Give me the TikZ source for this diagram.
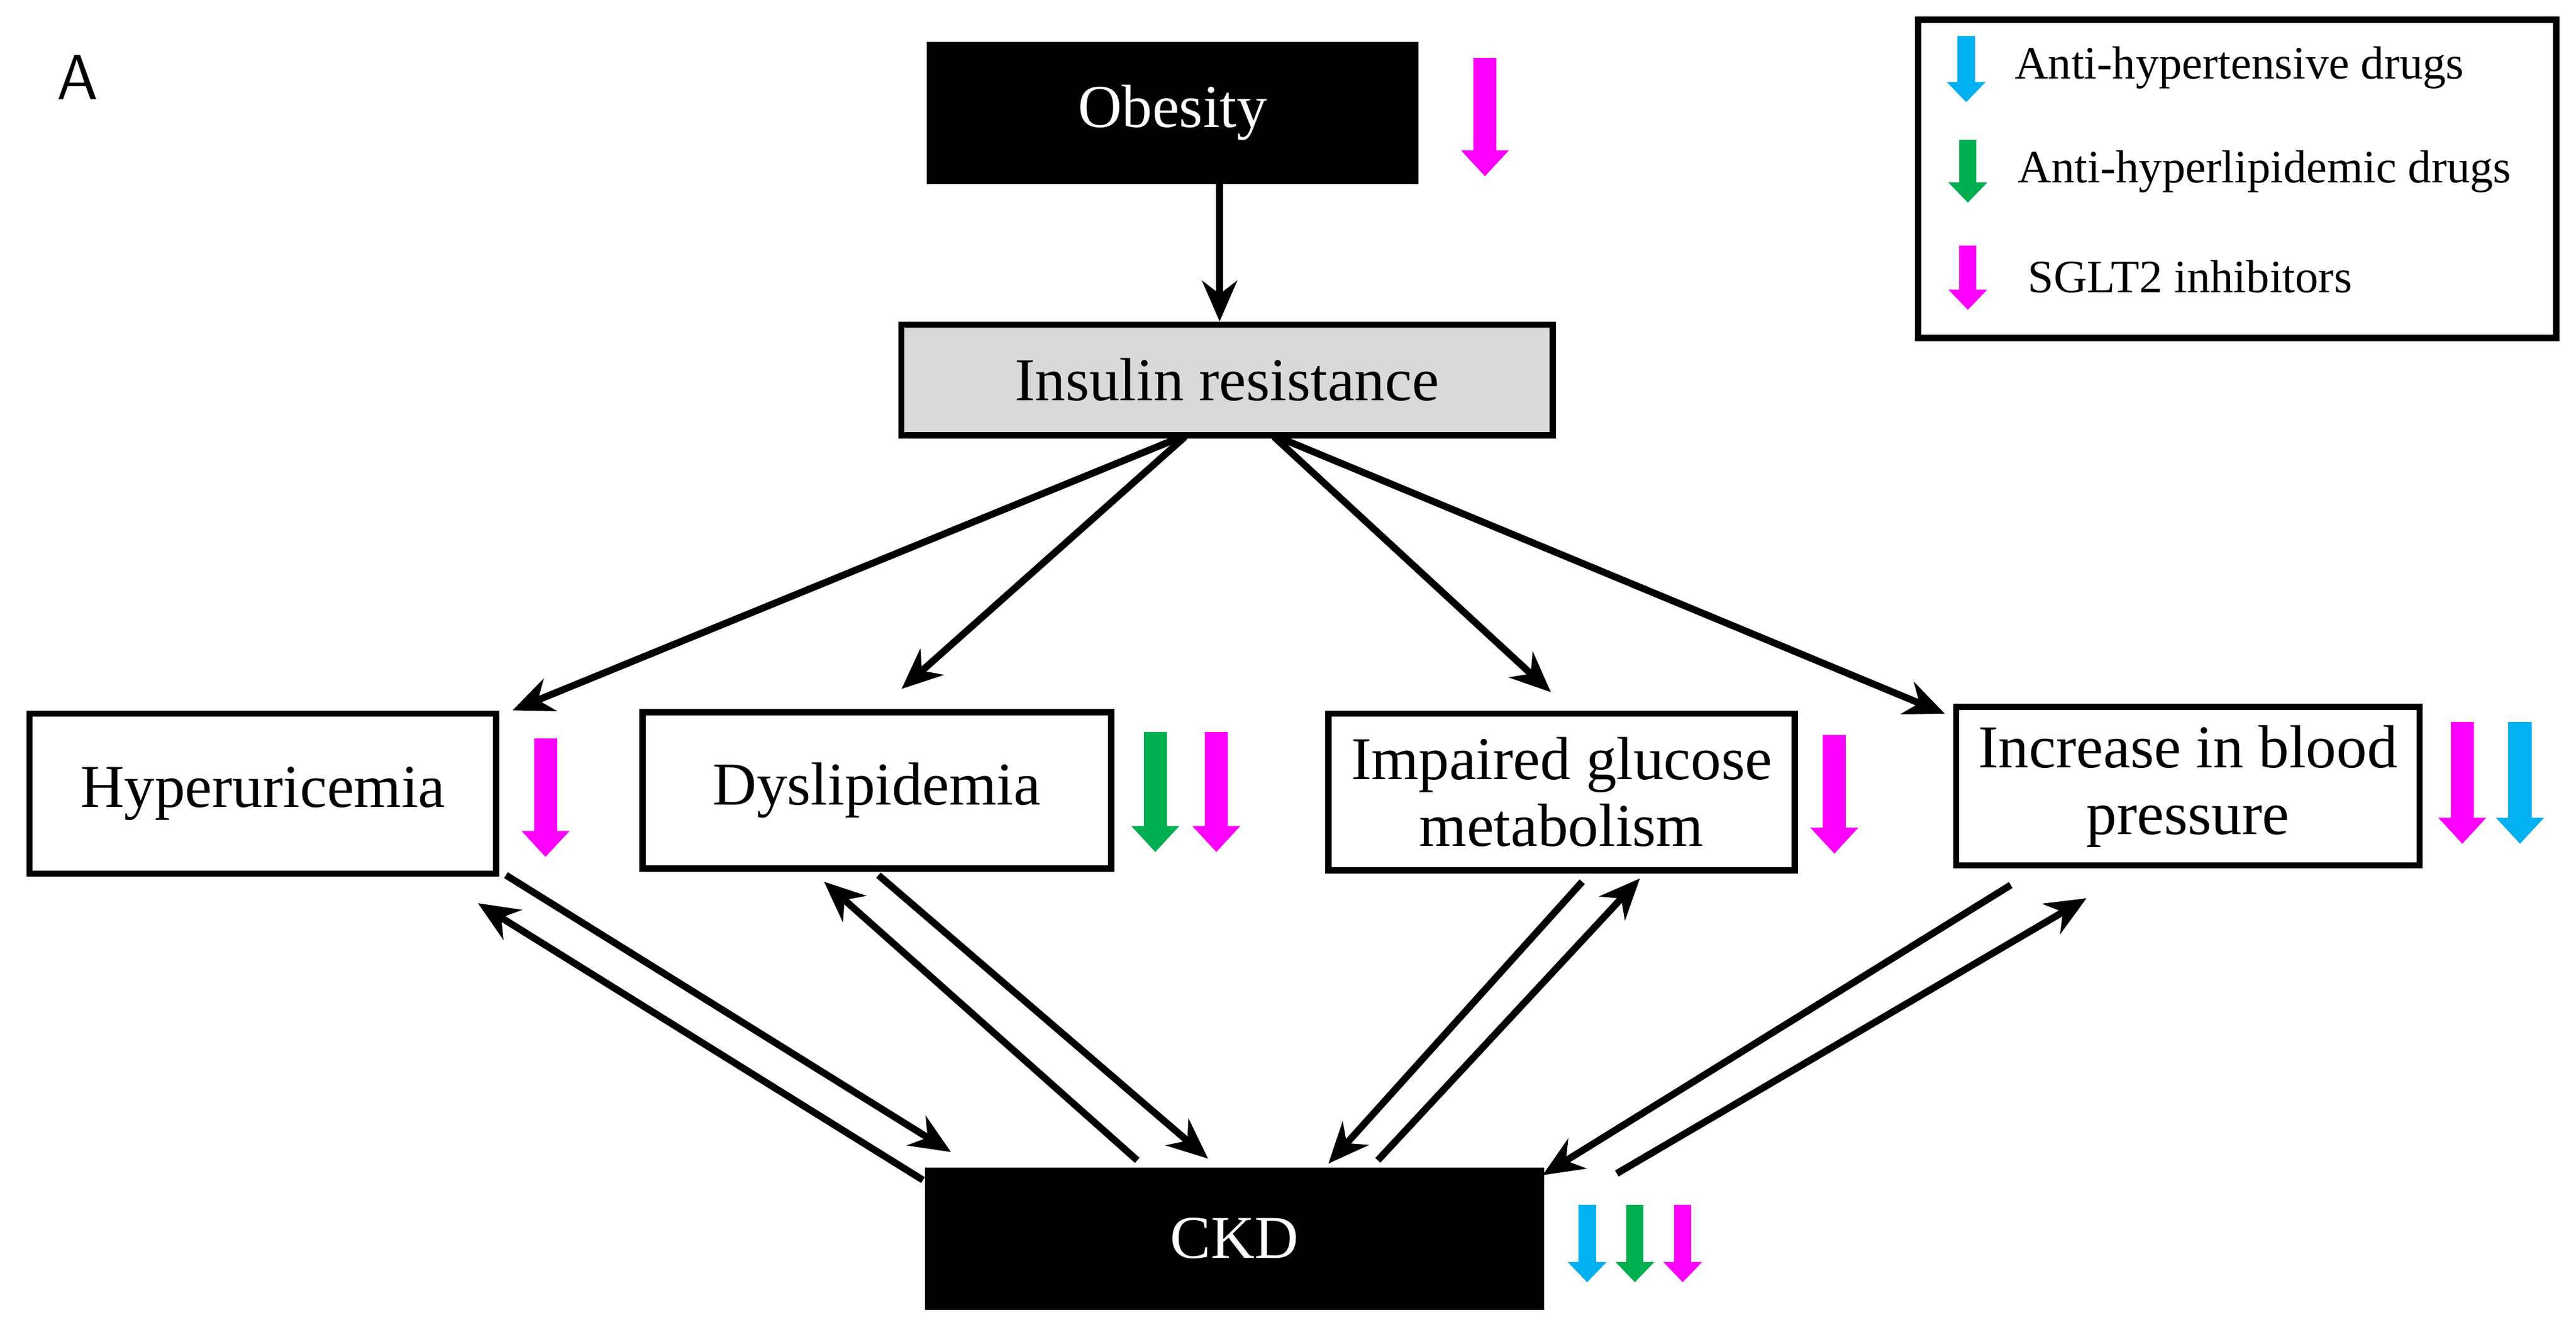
\documentclass[tikz,border=0pt]{standalone}
\usepackage{fontspec}
\setmainfont{Liberation Serif}
\usetikzlibrary{arrows.meta}
\definecolor{mag}{RGB}{255,0,255}
\definecolor{grn}{RGB}{0,176,80}
\definecolor{blu}{RGB}{0,176,240}
\begin{document}
\begin{tikzpicture}[x=0.01cm,y=-0.01cm,
 box/.style={draw,line width=1.1pt,minimum width=#1,inner sep=2pt,align=center,font=\fontsize{10.5}{11.5}\selectfont},
 blk/.style={fill=black,text=white,draw=black,font=\fontsize{10.5}{11.5}\selectfont},
 con/.style={line width=1.2pt,-{Stealth[length=7pt,width=6pt]}},
 ba/.style={line width=4pt,-{Triangle[length=4.5pt,width=8pt]}},
 sba/.style={line width=3pt,-{Triangle[length=3.5pt,width=6.5pt]}}]
\useasboundingbox (0,0) rectangle (1563,811);
\node[font=\sffamily\fontsize{11}{12}\selectfont] (A) at (47,47) {A};
\node[blk,minimum width=2.97cm,minimum height=0.85cm] (ob) at (711.5,68.5) {Obesity};
\node[box=3.95cm,minimum height=0.67cm,fill=black!15] (ir) at (744.5,230.5) {Insulin resistance};
\node[box=2.83cm,minimum height=0.97cm] (hu) at (159.5,481.5) {Hyperuricemia};
\node[box=2.84cm,minimum height=0.95cm] (dl) at (532,479.5) {Dyslipidemia};
\node[box=2.83cm,minimum height=0.95cm] (ig) at (947.5,480.5) {Impaired glucose\\metabolism};
\node[box=2.81cm,minimum height=0.96cm] (bp) at (1327.5,477) {Increase in blood\\pressure};
\node[blk,minimum width=3.74cm,minimum height=0.85cm] (ckd) at (749,751.5) {CKD};
\node[draw,line width=1.1pt,minimum width=3.87cm,minimum height=1.93cm] (leg) at (1357.5,108.5) {};
\node[anchor=west,font=\fontsize{8}{9}\selectfont] (l1) at (1210,41) {Anti-hypertensive drugs};
\node[anchor=west,font=\fontsize{8}{9}\selectfont] (l2) at (1212,104) {Anti-hyperlipidemic drugs};
\node[anchor=west,font=\fontsize{8}{9}\selectfont] (l3) at (1218,168) {SGLT2 inhibitors};
% connectors
\draw[con] (ob.south -| 740,0) -- (ir.north -| 740,0);
\coordinate (i1) at (717,265); \coordinate (i2) at (719,265);
\coordinate (i3) at (773,265); \coordinate (i4) at (775,265);
\draw[con] (i1) -- (311,431);
\draw[con] (i2) -- (547,418);
\draw[con] (i3) -- (941,420);
\draw[con] (i4) -- (1180,433);
\draw[con] (307,531) -- (577,699);
\draw[con] (560,716) -- (290,548);
\draw[con] (533,531) -- (733,703);
\draw[con] (690,704) -- (500,535);
\draw[con] (960,535) -- (806,706);
\draw[con] (836,704) -- (995,533);
\draw[con] (1220,537) -- (936,713);
\draw[con] (981,712) -- (1266,545);
% drug arrows
\draw[ba,mag] (901,35) -- (901,107);
\draw[ba,mag] (331,448) -- (331,520);
\draw[ba,grn] (701,444) -- (701,517);
\draw[ba,mag] (738,444) -- (738,517);
\draw[ba,mag] (1113,446) -- (1113,518);
\draw[ba,mag] (1494,438) -- (1494,512);
\draw[ba,blu] (1529,438) -- (1529,512);
\draw[sba,blu] (963,731) -- (963,778);
\draw[sba,grn] (992,731) -- (992,778);
\draw[sba,mag] (1021,731) -- (1021,778);
\draw[sba,blu] (1193,22) -- (1193,62);
\draw[sba,grn] (1194,85) -- (1194,123);
\draw[sba,mag] (1194,149) -- (1194,188);
\end{tikzpicture}
\end{document}
